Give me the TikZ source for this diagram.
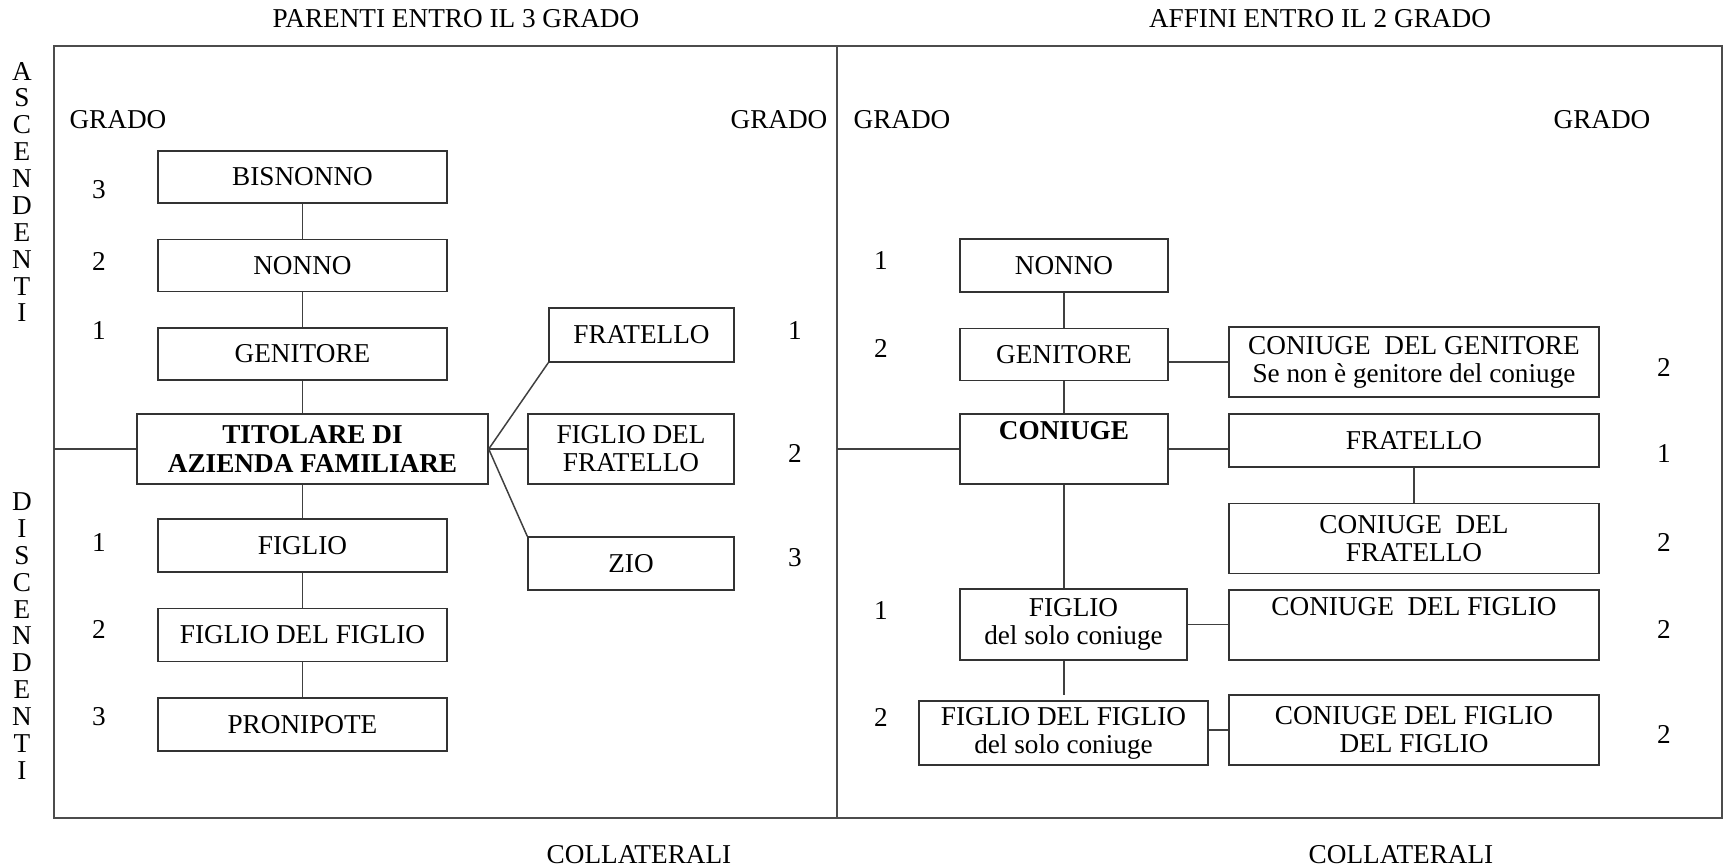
\documentclass[tikz,border=0pt]{standalone}
\usepackage{fontspec}
\setmainfont{Liberation Serif}
\usetikzlibrary{positioning,calc}

\begin{document}
\begin{tikzpicture}[x=0.02cm,y=-0.02cm,node distance=0.7cm,
  box/.style 2 args={draw=black!80,line width=0.85pt,minimum width=#1,minimum height=#2,align=center,inner sep=1pt,font=\fontsize{15.5}{16}\selectfont},
  txt/.style={font=\fontsize{15.5}{16}\selectfont},
  side/.style={align=center,font=\fontsize{15.5}{15.3}\selectfont},
  link/.style={draw=black!75,line width=0.85pt},
  frame/.style={draw=black!70,line width=1pt}]
  \useasboundingbox (0,0) rectangle (1729,867);

  % cornice e divisione
  \coordinate (nw) at (54,46);
  \coordinate (se) at (1722,818);
  \coordinate (dtop) at (837,46);
  \coordinate (dbot) at (837,818);
  \draw[frame] (nw) rectangle (se);
  \draw[frame] (dtop) -- (dbot);

  % intestazioni
  \node[txt] (hpar) at (456,19) {PARENTI ENTRO IL 3 GRADO};
  \node[txt] (haff) at (1320,19) {AFFINI ENTRO IL 2 GRADO};
  \node[txt] (col1) at (639,855) {COLLATERALI};
  \node[txt] (col2) at (1401,855) {COLLATERALI};
  \node[txt] (g1) at (118,120) {GRADO};
  \node[txt] (g2) at (779,120) {GRADO};
  \node[txt] (g3) at (902,120) {GRADO};
  \node[txt] (g4) at (1602,120) {GRADO};
  \node[side] (asc) at (22,192) {A\\S\\C\\E\\N\\D\\E\\N\\T\\I};
  \node[side] (disc) at (22,636) {D\\I\\S\\C\\E\\N\\D\\E\\N\\T\\I};

  % parenti
  \node[box={5.78cm}{1.04cm}] (bis) at (302.5,177) {BISNONNO};
  \node[box={5.78cm}{1.04cm},below=of bis] (nonL) {NONNO};
  \node[box={5.78cm}{1.04cm},below=of nonL] (genL) {GENITORE};
  \node[box={7.02cm}{1.4cm},font=\fontsize{15.5}{17}\selectfont\bfseries] (tit) at (312.5,449) {TITOLARE DI\\AZIENDA FAMILIARE};
  \node[box={5.78cm}{1.06cm}] (figL) at (302.5,545.5) {FIGLIO};
  \node[box={5.78cm}{1.06cm},below=of figL] (ffL) {FIGLIO DEL FIGLIO};
  \node[box={5.78cm}{1.06cm},below=of ffL] (pron) {PRONIPOTE};
  \node[box={3.7cm}{1.08cm}] (fraL) at (641.5,335) {FRATELLO};
  \node[box={4.12cm}{1.4cm}] (ffra) at (631,449) {FIGLIO DEL\\FRATELLO};
  \node[box={4.12cm}{1.06cm}] (zio) at (631,563.5) {ZIO};

  \node[txt] (n1) at (99,190) {3};
  \node[txt] (n2) at (99,261) {2};
  \node[txt] (n3) at (99,331) {1};
  \node[txt] (n4) at (99,542) {1};
  \node[txt] (n5) at (99,629) {2};
  \node[txt] (n6) at (99,717) {3};
  \node[txt] (n7) at (795,331) {1};
  \node[txt] (n8) at (795,453) {2};
  \node[txt] (n9) at (795,558) {3};

  \coordinate (fl) at (54,449);
  \draw[link] (bis) -- (nonL);
  \draw[link] (nonL) -- (genL);
  \draw[link] (genL.south) -- (genL.south |- tit.north);
  \draw[link] (figL.north |- tit.south) -- (figL.north);
  \draw[link] (figL) -- (ffL);
  \draw[link] (ffL) -- (pron);
  \draw[link] (fl) -- (tit.west);
  \draw[link] (tit.east) -- (ffra.west);
  \draw[link] (tit.east) -- (fraL.south west);
  \draw[link] (tit.east) -- (zio.north west);

  % affini
  \node[box={4.16cm}{1.06cm}] (nonR) at (1064,265.5) {NONNO};
  \node[box={4.16cm}{1.04cm},below=of nonR] (genR) {GENITORE};
  \node[box={4.16cm}{1.4cm},font=\fontsize{15.5}{16}\selectfont\bfseries] (con) at (1064,449) {CONIUGE\\\strut};
  \node[box={7.4cm}{1.4cm}] (cgen) at (1414,362) {CONIUGE\ \ DEL GENITORE\\Se non è genitore del coniuge};
  \node[box={7.4cm}{1.06cm}] (fraR) at (1414,440.5) {FRATELLO};
  \node[box={7.4cm}{1.4cm},below=of fraR] (cfra) {CONIUGE\ \ DEL\\FRATELLO};
  \node[box={4.54cm}{1.42cm}] (figR) at (1073.5,624.5) {FIGLIO\\del solo coniuge};
  \node[box={7.4cm}{1.4cm}] (cfig) at (1414,625) {CONIUGE\ \ DEL FIGLIO\\\strut};
  \node[box={5.78cm}{1.28cm}] (ffR) at (1063.5,733) {FIGLIO DEL FIGLIO\\del solo coniuge};
  \node[box={7.4cm}{1.4cm}] (cff) at (1414,730) {CONIUGE DEL FIGLIO\\DEL FIGLIO};

  \node[txt] (m1) at (881,260) {1};
  \node[txt] (m2) at (881,348) {2};
  \node[txt] (m3) at (881,610) {1};
  \node[txt] (m4) at (881,717) {2};
  \node[txt] (m5) at (1664,367) {2};
  \node[txt] (m6) at (1664,453) {1};
  \node[txt] (m7) at (1664,542) {2};
  \node[txt] (m8) at (1664,629) {2};
  \node[txt] (m9) at (1664,734) {2};

  \coordinate (dl) at (837,449);
  \draw[link] (dl) -- (con.west);
  \draw[link] (nonR) -- (genR);
  \draw[link] (genR) -- (con);
  \draw[link] (cgen.west -| genR.east) -- (cgen.west);
  \draw[link] (con.east) -- (con.east -| fraR.west);
  \draw[link] (fraR) -- (cfra);
  \draw[link] (con.south) -- (con.south |- figR.north);
  \draw[link] (figR.east) -- (figR.east -| cfig.west);
  \draw[link] (con.south |- figR.south) -- ($(con.south |- ffR.north)+(0,-5)$);
  \draw[link] (cff.west -| ffR.east) -- (cff.west);
\end{tikzpicture}
\end{document}
